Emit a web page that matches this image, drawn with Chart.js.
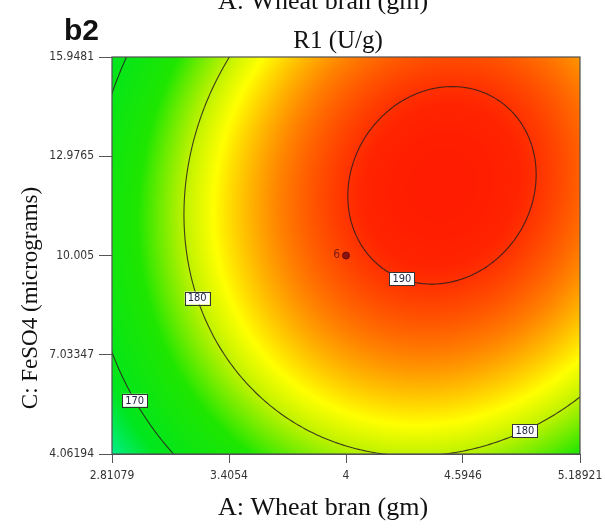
<!DOCTYPE html>
<html>
<head>
<meta charset="utf-8">
<title>R1 (U/g) contour</title>
<script src="https://cdn.jsdelivr.net/npm/chart.js@4.4.1/dist/chart.umd.min.js"></script>
<style>
  html, body { margin: 0; padding: 0; background: #fff; }
  canvas { display: block; }
</style>
</head>
<body>
<canvas id="contour" width="605" height="528"></canvas>
<script>
// axis ticks, actual units
const xTickValues = [2.81079, 3.4054, 4, 4.5946, 5.18921];
const xTickLabels = ['2.81079', '3.4054', '4', '4.5946', '5.18921'];
const yTickValues = [4.06194, 7.03347, 10.005, 12.9765, 15.9481];
const yTickLabels = ['4.06194', '7.03347', '10.005', '12.9765', '15.9481'];

// factor coding: centre and one coded step (A, C)
const codedCentre = [4, 10.005];
const codedStep = [0.5946, 2.97153];

// quadratic model for R1 in coded units (estimated from the contour shapes)
const modelTerms = ['1', 'A', 'C', 'A^2', 'C^2', 'AC'];
const modelCoefs = [189.38, 3.641, 1.875, -2.40, -1.57, 0.42];

const contourLevels = [170, 180, 190];

// where the contour labels sit
const labelLevels = [170, 180, 180, 190];
const labelA = [2.93, 3.25, 4.89, 4.30];
const labelC = [5.68, 8.77, 4.96, 9.53];

// design point (centre point, 6 runs)
const designA = [4];
const designC = [10.005];
const designLabels = ['6'];

// colour ramp, R1 value -> rgb
const colourStops = [
  [164, [0, 238, 140]],
  [168.5, [0, 230, 30]],
  [175.5, [30, 230, 0]],
  [180, [190, 242, 0]],
  [182.5, [255, 255, 0]],
  [187, [255, 128, 0]],
  [190.5, [255, 36, 0]],
  [192, [255, 24, 0]]
];

const narrow = '"Liberation Sans Narrow", "DejaVu Sans Condensed", sans-serif';
const serif = '"Liberation Serif", "DejaVu Serif", serif';

function r1Coded(a, c) {
  const [b0, b1, b2, b11, b22, b12] = modelCoefs;
  return b0 + b1 * a + b2 * c + b11 * a * a + b22 * c * c + b12 * a * c;
}

function r1(A, C) {
  return r1Coded((A - codedCentre[0]) / codedStep[0], (C - codedCentre[1]) / codedStep[1]);
}

function colourAt(v) {
  if (v <= colourStops[0][0]) return colourStops[0][1];
  for (let i = 1; i < colourStops.length; i++) {
    const [v1, c1] = colourStops[i];
    if (v <= v1) {
      const [v0, c0] = colourStops[i - 1];
      const t = (v - v0) / (v1 - v0);
      return [0, 1, 2].map(k => c0[k] + (c1[k] - c0[k]) * t);
    }
  }
  return colourStops[colourStops.length - 1][1];
}

// closed contour of the (elliptic) surface, in pixels
function contourPixels(chart, level) {
  const { x, y } = chart.scales;
  const [, b1, b2, b11, b22, b12] = modelCoefs;
  const det = 4 * b11 * b22 - b12 * b12;
  const a0 = (-2 * b1 * b22 + b2 * b12) / det;
  const c0 = (-2 * b11 * b2 + b12 * b1) / det;
  const d = r1Coded(a0, c0) - level;
  const pts = [];
  for (let k = 0; k < 720; k++) {
    const t = k / 720 * Math.PI * 2;
    const u = Math.cos(t), v = Math.sin(t);
    const q = -b11 * u * u - b22 * v * v - b12 * u * v;
    const r = Math.sqrt(d / q);
    const A = codedCentre[0] + (a0 + r * u) * codedStep[0];
    const C = codedCentre[1] + (c0 + r * v) * codedStep[1];
    pts.push({ x: x.getPixelForValue(A), y: y.getPixelForValue(C) });
  }
  return pts;
}

const surfacePlugin = {
  id: 'surface',
  beforeDatasetsDraw(chart) {
    const { ctx, chartArea: area, scales: { x, y } } = chart;
    const left = Math.round(area.left), top = Math.round(area.top);
    const w = Math.round(area.right) - left, h = Math.round(area.bottom) - top;
    const img = ctx.createImageData(w, h);
    for (let j = 0; j < h; j++) {
      const C = y.getValueForPixel(top + j + 0.5);
      for (let i = 0; i < w; i++) {
        const col = colourAt(r1(x.getValueForPixel(left + i + 0.5), C));
        const k = (j * w + i) * 4;
        img.data[k] = col[0];
        img.data[k + 1] = col[1];
        img.data[k + 2] = col[2];
        img.data[k + 3] = 255;
      }
    }
    ctx.putImageData(img, left, top);

    ctx.save();
    ctx.beginPath();
    ctx.rect(area.left, area.top, area.width, area.height);
    ctx.clip();
    ctx.strokeStyle = 'rgba(40, 30, 30, 0.85)';
    ctx.lineWidth = 1.1;
    contourLevels.forEach(level => {
      const pts = contourPixels(chart, level);
      ctx.beginPath();
      pts.forEach((p, i) => (i ? ctx.lineTo(p.x, p.y) : ctx.moveTo(p.x, p.y)));
      ctx.closePath();
      ctx.stroke();
    });
    ctx.restore();
  },
  afterDatasetsDraw(chart) {
    const { ctx, chartArea: area, scales: { x, y } } = chart;
    ctx.save();

    // contour labels, snapped onto their line
    ctx.font = '11px ' + narrow;
    ctx.textAlign = 'center';
    ctx.textBaseline = 'middle';
    labelLevels.forEach((level, i) => {
      const px = x.getPixelForValue(labelA[i]), py = y.getPixelForValue(labelC[i]);
      let best = null, bestD = Infinity;
      contourPixels(chart, level).forEach(p => {
        const dd = (p.x - px) ** 2 + (p.y - py) ** 2;
        if (dd < bestD) { bestD = dd; best = p; }
      });
      const text = String(level);
      const tw = ctx.measureText(text).width + 6;
      ctx.fillStyle = '#fff';
      ctx.fillRect(best.x - tw / 2, best.y - 6.5, tw, 13);
      ctx.strokeStyle = '#333';
      ctx.lineWidth = 1;
      ctx.strokeRect(Math.round(best.x - tw / 2) + 0.5, Math.round(best.y - 6.5) + 0.5, Math.round(tw), 13);
      ctx.fillStyle = '#1c2340';
      ctx.fillText(text, best.x, best.y + 0.5);
    });

    // design point count
    ctx.font = '12px ' + narrow;
    ctx.textAlign = 'right';
    ctx.fillStyle = '#7a1a10';
    designA.forEach((a, i) => {
      ctx.fillText(designLabels[i], x.getPixelForValue(a) - 6, y.getPixelForValue(designC[i]) - 1);
    });

    // frame
    ctx.strokeStyle = '#505050';
    ctx.lineWidth = 1.2;
    ctx.strokeRect(area.left, area.top, area.width, area.height);
    ctx.restore();
  },
  afterDraw(chart) {
    const { ctx } = chart;
    ctx.save();
    ctx.fillStyle = '#111';
    ctx.textBaseline = 'alphabetic';

    ctx.font = 'bold 30px "Liberation Sans", Arial, sans-serif';
    ctx.textAlign = 'left';
    ctx.fillText('b2', 64, 40);

    ctx.font = '26px ' + serif;
    ctx.textAlign = 'center';
    ctx.fillText('A: Wheat bran (gm)', 323, 9);
    ctx.fillText('A: Wheat bran (gm)', 323, 515);

    ctx.font = '25px ' + serif;
    ctx.fillText('R1 (U/g)', 338, 48);

    ctx.translate(37, 298);
    ctx.rotate(-Math.PI / 2);
    ctx.font = '23px ' + serif;
    ctx.fillText('C: FeSO4 (micrograms)', 0, 0);
    ctx.restore();
  }
};

const tickFont = { family: narrow, size: 12 };

new Chart(document.getElementById('contour'), {
  type: 'scatter',
  data: {
    datasets: [{
      label: 'Design points',
      data: designA.map((a, i) => ({ x: a, y: designC[i] })),
      pointRadius: 3.5,
      pointHoverRadius: 3.5,
      backgroundColor: '#8b1010',
      borderColor: '#6a0c0c',
      borderWidth: 1
    }]
  },
  options: {
    responsive: false,
    animation: false,
    devicePixelRatio: 1,
    layout: { padding: { top: 57, right: 25, left: 0, bottom: 0 } },
    plugins: {
      legend: { display: false },
      tooltip: { enabled: false }
    },
    scales: {
      x: {
        type: 'linear',
        min: xTickValues[0],
        max: xTickValues[xTickValues.length - 1],
        afterBuildTicks: s => { s.ticks = xTickValues.map(v => ({ value: v })); },
        afterFit: s => { s.height = 74; s.paddingLeft = 0; s.paddingRight = 0; },
        ticks: {
          autoSkip: false,
          maxRotation: 0,
          padding: 6,
          font: tickFont,
          color: '#333',
          callback: (v, i) => xTickLabels[i]
        },
        grid: { drawOnChartArea: false, tickLength: 9, color: '#555' },
        border: { color: '#555' }
      },
      y: {
        type: 'linear',
        min: yTickValues[0],
        max: yTickValues[yTickValues.length - 1],
        afterBuildTicks: s => { s.ticks = yTickValues.map(v => ({ value: v })); },
        afterFit: s => { s.width = 112; s.paddingTop = 0; s.paddingBottom = 0; },
        ticks: {
          autoSkip: false,
          padding: 5,
          font: tickFont,
          color: '#333',
          callback: (v, i) => yTickLabels[i]
        },
        grid: { drawOnChartArea: false, tickLength: 13, color: '#555' },
        border: { color: '#555' }
      }
    }
  },
  plugins: [surfacePlugin]
});
</script>
</body>
</html>
